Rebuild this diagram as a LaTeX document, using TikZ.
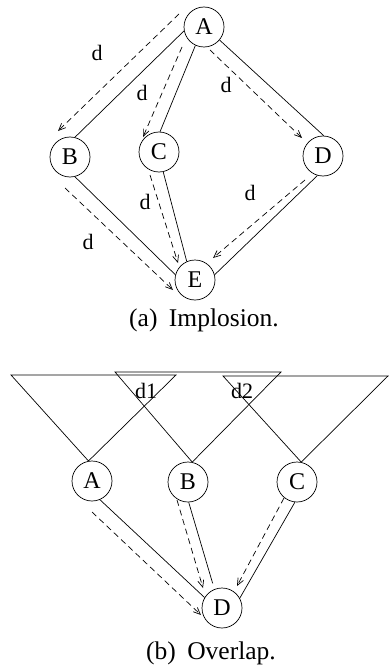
\documentclass[tikz,border=0pt]{standalone}
\usepackage{fontspec}
\setmainfont{Liberation Serif}
\usetikzlibrary{arrows.meta,calc}

\begin{document}
\begin{tikzpicture}[x=1pt, y=-1pt, line width=0.7pt,
  vtx/.style={circle, draw, minimum size=40pt, inner sep=0pt, font=\fontsize{24}{24}\selectfont},
  dep/.style={dash pattern=on 6pt off 4pt, -{Straight Barb[length=7pt,width=6pt]}},
  lbl/.style={font=\fontsize{22}{22}\selectfont, inner sep=0pt},
  captxt/.style={font=\fontsize{25.5}{25.5}\selectfont, anchor=base, inner sep=0pt}]
\useasboundingbox (0,0) rectangle (390,666);
% (a) implosion
\node[vtx] (iA) at (204,27) {A};
\node[vtx] (iB) at (70,157) {B};
\node[vtx] (iC) at (159,152) {C};
\node[vtx] (iD) at (323,156) {D};
\node[vtx] (iE) at (195,280) {E};
\draw (iA.191) -- (iB.76);
\draw (iA.245) -- (iC.87);
\draw (iA.320) -- (iD.88);
\draw (iB.284) -- (iE.165);
\draw (iC.282) -- (iE.114);
\draw (iD.254) -- (iE.15);
\draw[dep] ($(iA)+(-25,-13)$) -- ($(iB)+(-12,-26)$);
\draw[dep] ($(iA)+(-22,20)$) -- ($(iC)+(-16,-15)$);
\draw[dep] ($(iA)+(6,23)$) -- ($(iD)+(-21,-18)$);
\draw[dep] ($(iB)+(-5,31)$) -- ($(iE)+(-22,10)$);
\draw[dep] ($(iC)+(-9,23)$) -- ($(iE)+(-17,-17)$);
\draw[dep] ($(iD)+(-18,24)$) -- ($(iE)+(18,-22)$);
\node[lbl] (dAB) at (97,53) {d};
\node[lbl] (dAC) at (142,93) {d};
\node[lbl] (dAD) at (226,85) {d};
\node[lbl] (dBE) at (88,242) {d};
\node[lbl] (dCE) at (145,202) {d};
\node[lbl] (dDE) at (250,193) {d};
\node[captxt] (capa) at (204,326) {(a)\hspace{0.45em}Implosion.};
% (b) overlap
\node[vtx] (oA) at (92,481) {A};
\node[vtx] (oB) at (188,482) {B};
\node[vtx] (oC) at (297,482) {C};
\node[vtx] (oD) at (222,608) {D};
\draw (11,375) -- (176,375) -- (oA.100) -- cycle;
\draw (115,372) -- (281,372) -- (oB.78) -- cycle;
\draw (223,376) -- (388,376) -- (oC.78) -- cycle;
\node[lbl] (d1) at (146,391) {d1};
\node[lbl] (d2) at (242,391) {d2};
\draw (oA.293) -- (oD.149);
\draw[shorten >=6pt] (oB.272) -- (oD.112);
\draw (oC.264) -- (oD.29);
\draw[dep] ($(oA)+(0,31)$) -- ($(oD)+(-21,7)$);
\draw[dep] ($(oB)+(-11,18)$) -- ($(oD)+(-19,-20)$);
\draw[dep] ($(oC)+(-13,16)$) -- ($(oD)+(15,-22)$);
\node[captxt] (capb) at (211,659) {(b)\hspace{0.45em}Overlap.};
\end{tikzpicture}
\end{document}
